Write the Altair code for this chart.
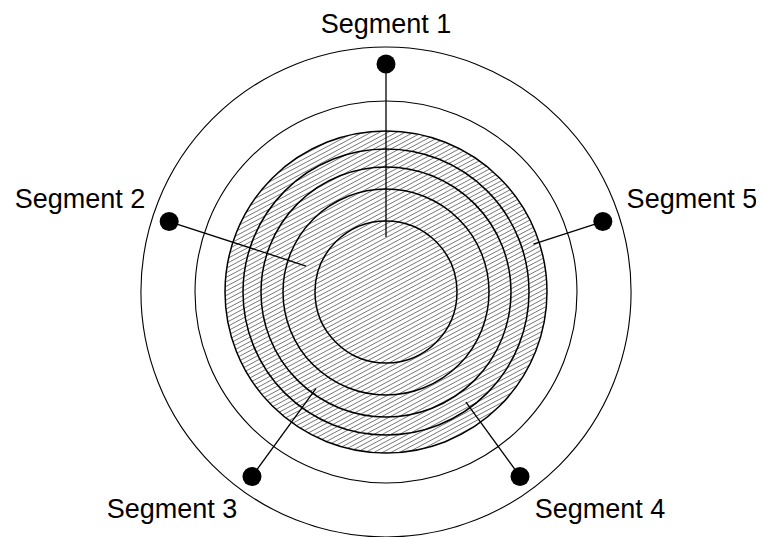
import math
import altair as alt
import pandas as pd

# ---- data ----
segments = ["Segment 1", "Segment 2", "Segment 3", "Segment 4", "Segment 5"]
seg_values = [55, 84, 119, 136, 155]          # where each spoke starts (radial units)
ring_radii = [71, 103, 125, 143, 161]         # hatched concentric rings
outer_radii = [245, 191]                      # plain outer circles
marker_radius = 228                           # radius of the spoke end markers
label_radius = 253                            # radius of the segment labels

# ---- geometry of the view (1 radial unit = 1 px) ----
W, H = 748, 529
CX, CY = 378, 284
xs = alt.Scale(domain=[-CX, W - CX], nice=False, zero=False)
ys = alt.Scale(domain=[-(H - CY), CY], nice=False, zero=False)
rs = alt.Scale(type="linear", domain=[0, 245], range=[0, 245], zero=True, nice=False)

seg_df = pd.DataFrame({
    "segment": segments,
    "value": seg_values,
    "idx": list(range(len(segments))),
})

seg_base = alt.Chart(seg_df).transform_calculate(
    a="-datum.idx * 2 * PI / 5",
).transform_calculate(
    sx="sin(datum.a)", cy_="cos(datum.a)",
).transform_calculate(
    x0="datum.value * datum.sx",
    y0="datum.value * datum.cy_",
    x1=f"{marker_radius} * datum.sx",
    y1=f"{marker_radius} * datum.cy_",
    lx=f"{label_radius} * datum.sx",
    ly=f"{label_radius} * datum.cy_",
)

ctr_x = alt.X(datum=0, type="quantitative", scale=xs, axis=None)
ctr_y = alt.Y(datum=0, type="quantitative", scale=ys, axis=None)

outer = alt.Chart(pd.DataFrame({"r": outer_radii})).mark_arc(
    theta=0, theta2=2 * math.pi, fill="white", stroke="black", strokeWidth=1.1
).encode(
    x=ctr_x, y=ctr_y,
    radius=alt.Radius("r:Q", scale=rs, stack=None),
    order=alt.Order("r:Q", sort="descending"),
)

disk = alt.Chart(pd.DataFrame({"r": [max(ring_radii)]})).mark_arc(
    theta=0, theta2=2 * math.pi, fill="white"
).encode(x=ctr_x, y=ctr_y, radius=alt.Radius("r:Q", scale=rs, stack=None))

# hatch pattern inside the largest ring
R = max(ring_radii)
sp = 4.0
th = math.radians(28)
hatch = alt.Chart(alt.sequence(-45, 46, 1, as_="k")).transform_calculate(
    d=f"datum.k * {sp}"
).transform_filter(
    f"abs(datum.d) < {R}"
).transform_calculate(
    h=f"sqrt({R}*{R} - datum.d*datum.d)"
).transform_calculate(
    hx1=f"-datum.d*{math.sin(th)} - datum.h*{math.cos(th)}",
    hy1=f"datum.d*{math.cos(th)} - datum.h*{math.sin(th)}",
    hx2=f"-datum.d*{math.sin(th)} + datum.h*{math.cos(th)}",
    hy2=f"datum.d*{math.cos(th)} + datum.h*{math.sin(th)}",
).mark_rule(stroke="#555555", strokeWidth=0.8).encode(
    x=alt.X("hx1:Q", scale=xs, axis=None),
    y=alt.Y("hy1:Q", scale=ys, axis=None),
    x2="hx2:Q",
    y2="hy2:Q",
)

rings = alt.Chart(pd.DataFrame({"r": ring_radii})).mark_arc(
    theta=0, theta2=2 * math.pi, fill="white", fillOpacity=0,
    stroke="black", strokeWidth=1.5
).encode(x=ctr_x, y=ctr_y, radius=alt.Radius("r:Q", scale=rs, stack=None))

spokes = seg_base.mark_rule(stroke="black", strokeWidth=1.3).encode(
    x=alt.X("x0:Q", scale=xs, axis=None),
    y=alt.Y("y0:Q", scale=ys, axis=None),
    x2="x1:Q",
    y2="y1:Q",
)

dots = seg_base.mark_circle(size=361, color="black", opacity=1).encode(
    x=alt.X("x1:Q", scale=xs, axis=None),
    y=alt.Y("y1:Q", scale=ys, axis=None),
)

labels = seg_base.mark_text(
    font="Liberation Sans",
    fontSize=27,
    color="black",
    align=alt.expr("datum.sx > 0.2 ? 'left' : (datum.sx < -0.2 ? 'right' : 'center')"),
    baseline=alt.expr("datum.cy_ > 0 ? 'bottom' : 'top'"),
).encode(
    x=alt.X("lx:Q", scale=xs, axis=None),
    y=alt.Y("ly:Q", scale=ys, axis=None),
    text="segment:N",
)

chart = alt.layer(outer, disk, hatch, rings, spokes, dots, labels).properties(
    width=W, height=H, padding=0,
    autosize=alt.AutoSizeParams(type="none"),
    background="white",
).configure_view(stroke=None)

chart.save("out.html", embed_options={"renderer": "svg", "actions": False})
